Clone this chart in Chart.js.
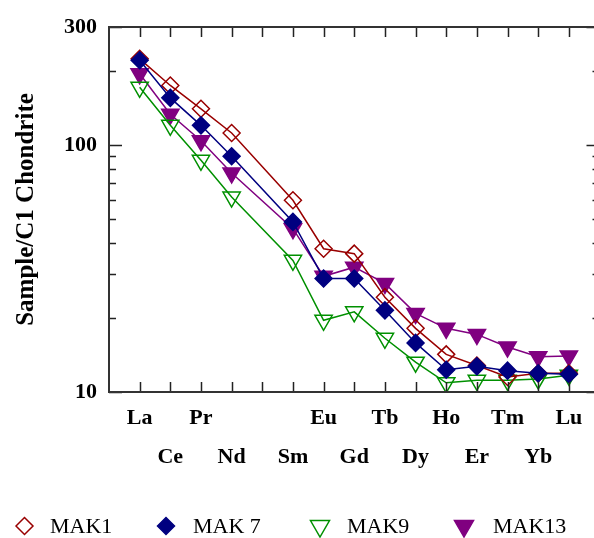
<!DOCTYPE html>
<html>
<head>
<meta charset="utf-8">
<script src="https://cdn.jsdelivr.net/npm/chart.js@4.4.1/dist/chart.umd.min.js"></script>
<style>
  html, body { margin: 0; padding: 0; background: #fff; overflow: hidden; }
  #wrap { width: 611px; height: 538px; }
</style>
</head>
<body>
<div id="wrap"><canvas id="reeChart" width="611" height="538"></canvas></div>
<script>
// Chondrite-normalised REE pattern
const elements = ['La', 'Ce', 'Pr', 'Nd', 'Pm', 'Sm', 'Eu', 'Gd', 'Tb', 'Dy', 'Ho', 'Er', 'Tm', 'Yb', 'Lu'];
const hiddenLabels = ['Pm'];
const yTickValues = [10, 100, 300];
const yMinorTicks = [20, 30, 40, 50, 60, 70, 80, 90, 200];

const mak1 = [223, 174, 140, 111.7, null, 59.7, 38.0, 36.3, 24.2, 18.1, 14.2, 12.8, 11.5, 11.9, 11.9];
const mak7 = [220, 155, 120, 90, null, 48.8, 28.8, 28.8, 21.4, 15.8, 12.3, 12.7, 12.2, 11.9, 11.8];
const mak9 = [171, 120, 86.6, 61.5, null, 34.1, 19.5, 21.1, 16.5, 13.2, 10.9, 11.15, 11.15, 11.3, 11.7];
const mak13 = [194, 133, 104, 77, null, 45.8, 29.4, 32.0, 27.5, 20.8, 18.1, 17.1, 15.2, 13.9, 14.0];

const SERIF = "'Liberation Serif', 'Times New Roman', serif";

function toPoints(values) {
    return values.map((v, i) => ({ x: i + 1, y: v }));
}

const series = [
    { label: 'MAK1', values: mak1, color: '#990000', style: 'rectRot', filled: false, radius: 8.5, order: 1 },
    { label: 'MAK 7', values: mak7, color: '#000080', style: 'rectRot', filled: true, radius: 8.5, order: 0 },
    { label: 'MAK9', values: mak9, color: '#009000', style: 'triangle', filled: false, radius: 10, order: 2 },
    { label: 'MAK13', values: mak13, color: '#800080', style: 'triangle', filled: true, radius: 10, order: 3 }
];

// draw one marker by hand (used for the legend)
function drawMarker(ctx, s, x, y, r) {
    ctx.beginPath();
    if (s.style === 'rectRot') {
        ctx.moveTo(x - r, y);
        ctx.lineTo(x, y - r);
        ctx.lineTo(x + r, y);
        ctx.lineTo(x, y + r);
    } else {
        // downward triangle
        const h = Math.sin(Math.PI / 3) * r;
        ctx.moveTo(x - h, y - r / 2);
        ctx.lineTo(x + h, y - r / 2);
        ctx.lineTo(x, y + r);
    }
    ctx.closePath();
    if (s.filled) {
        ctx.fillStyle = s.color;
        ctx.fill();
    }
    ctx.strokeStyle = s.color;
    ctx.lineWidth = 1.5;
    ctx.stroke();
}

const framePlugin = {
    id: 'frame',
    afterDraw(chart) {
        const ctx = chart.ctx;
        const area = chart.chartArea;
        const xs = chart.scales.x;
        const ys = chart.scales.y;
        ctx.save();

        // tick marks, pointing inward
        ctx.strokeStyle = '#222';
        ctx.lineWidth = 1.5;
        ctx.beginPath();
        elements.forEach((el, i) => {
            const px = Math.round(xs.getPixelForValue(i + 1)) + 0.5;
            ctx.moveTo(px, area.bottom);
            ctx.lineTo(px, area.bottom - 10);
            ctx.moveTo(px, area.top);
            ctx.lineTo(px, area.top + 10);
        });
        yMinorTicks.forEach(v => {
            const py = Math.round(ys.getPixelForValue(v)) + 0.5;
            ctx.moveTo(area.left, py);
            ctx.lineTo(area.left + 7, py);
            ctx.moveTo(area.right, py);
            ctx.lineTo(area.right - 7, py);
        });
        yTickValues.forEach(v => {
            const py = Math.round(ys.getPixelForValue(v)) + 0.5;
            ctx.moveTo(area.left, py);
            ctx.lineTo(area.left + 13, py);
            ctx.moveTo(area.right, py);
            ctx.lineTo(area.right - 13, py);
        });
        ctx.stroke();

        // box
        ctx.strokeStyle = '#333';
        ctx.lineWidth = 2;
        ctx.strokeRect(area.left, area.top, area.right - area.left, area.bottom - area.top);

        // legend row
        const markerX = [24.5, 166, 320, 464];
        const textX = [50, 193, 347, 493];
        ctx.textBaseline = 'alphabetic';
        ctx.textAlign = 'left';
        series.forEach((s, i) => {
            drawMarker(ctx, s, markerX[i], 526, s.style === 'triangle' ? 11 : 8.5);
            ctx.font = '22px ' + SERIF;
            ctx.fillStyle = '#000';
            ctx.fillText(s.label, textX[i], 533);
        });
        ctx.restore();
    }
};

new Chart(document.getElementById('reeChart'), {
    type: 'line',
    data: {
        datasets: series.map(s => ({
            label: s.label,
            data: toPoints(s.values),
            borderColor: s.color,
            borderWidth: 1.5,
            backgroundColor: s.color,
            pointStyle: s.style,
            pointRotation: s.style === 'triangle' ? 180 : 0,
            pointRadius: s.radius,
            pointBorderWidth: 1.5,
            pointBorderColor: s.color,
            pointBackgroundColor: s.filled ? s.color : 'rgba(255,255,255,0)',
            spanGaps: true,
            tension: 0,
            order: s.order
        }))
    },
    options: {
        responsive: false,
        animation: false,
        layout: { padding: { left: 0, right: 2, top: 27, bottom: 0 } },
        plugins: {
            legend: { display: false },
            tooltip: { enabled: false }
        },
        scales: {
            x: {
                type: 'linear',
                min: 0,
                max: 16,
                grid: { display: false },
                border: { display: false },
                afterBuildTicks: scale => {
                    scale.ticks = elements.map((el, i) => ({ value: i + 1 }));
                },
                afterFit: scale => {
                    scale.height = 146;
                    scale.paddingLeft = 0;
                    scale.paddingRight = 0;
                },
                ticks: {
                    autoSkip: false,
                    maxRotation: 0,
                    padding: -1,
                    color: '#000',
                    font: { family: SERIF, size: 22, weight: 'bold', lineHeight: 1.77 },
                    callback: value => {
                        const name = elements[value - 1];
                        const label = hiddenLabels.includes(name) ? '' : name;
                        return value % 2 === 1 ? [label, ''] : ['', label];
                    }
                }
            },
            y: {
                type: 'logarithmic',
                min: 10,
                max: 300,
                grid: { display: false },
                border: { display: false },
                afterBuildTicks: scale => {
                    scale.ticks = yTickValues.map(v => ({ value: v }));
                },
                afterFit: scale => { scale.width = 109; },
                ticks: {
                    padding: 4,
                    color: '#000',
                    font: { family: SERIF, size: 22, weight: 'bold' },
                    callback: value => String(value)
                },
                title: {
                    display: true,
                    text: 'Sample/C1 Chondrite',
                    color: '#000',
                    padding: { top: 12, bottom: 0 },
                    font: { family: SERIF, size: 25, weight: 'bold' }
                }
            }
        }
    },
    plugins: [framePlugin]
});
</script>
</body>
</html>
